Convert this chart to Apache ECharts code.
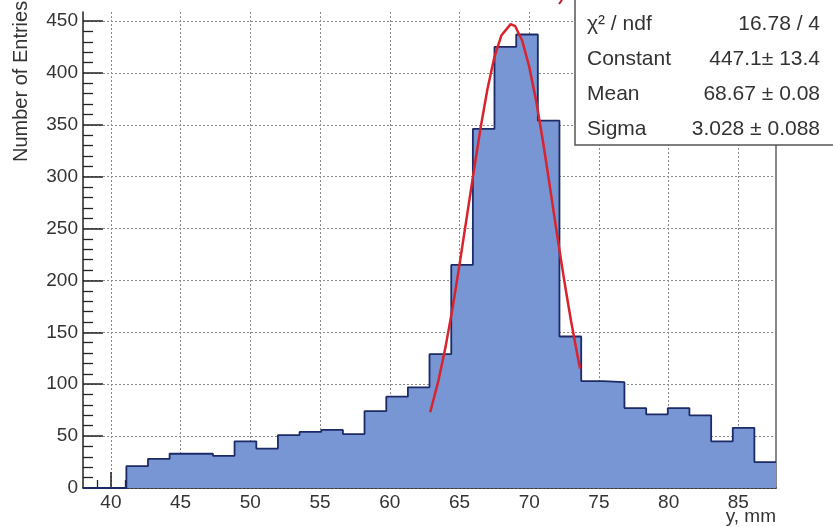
<!DOCTYPE html>
<html>
<head>
<meta charset="utf-8">
<script src="https://cdn.jsdelivr.net/npm/echarts@6/dist/echarts.min.js"></script>
<style>
html,body{margin:0;padding:0;background:#fff;}
#chart{width:833px;height:527px;}
</style>
</head>
<body>
<div id="chart"></div>
<script>
// Histogram bin edges (y, mm) and counts per bin
const binEdges = [38.00, 39.55, 41.11, 42.66, 44.21, 45.77, 47.32, 48.87, 50.43, 51.98, 53.53, 55.09, 56.64, 58.19, 59.75, 61.30, 62.85, 64.41, 65.96, 67.51, 69.07, 70.62, 72.17, 73.73, 75.28, 76.83, 78.39, 79.94, 81.49, 83.05, 84.60, 86.15, 87.70];
const counts = [0, 0, 21, 28, 33, 33, 31, 45, 38, 51, 54, 56, 52, 74, 88, 97, 129, 215, 346, 425, 437, 354, 146, 103, 102, 77, 71, 77, 70, 45, 58, 25];

// Gaussian fit curve
const fitX = [62.9, 63.5, 64.0, 64.5, 65.0, 65.5, 66.0, 66.5, 67.0, 67.5, 68.0, 68.67, 69.0, 69.5, 70.0, 70.5, 71.0, 71.5, 72.0, 72.5, 73.0, 73.5, 73.65];
const fitY = [73, 104, 136, 173, 215, 259, 303, 346, 384, 415, 436, 447, 445, 431, 406, 373, 333, 289, 244, 201, 161, 125, 115];

// Axis ticks
const xMajorTicks = [40, 45, 50, 55, 60, 65, 70, 75, 80, 85];
const xMinorTicks = [39, 41, 42, 43, 44, 46, 47, 48, 49, 51, 52, 53, 54, 56, 57, 58, 59, 61, 62, 63, 64, 66, 67, 68, 69, 71, 72, 73, 74, 76, 77, 78, 79, 81, 82, 83, 84, 86, 87];
const yMajorTicks = [0, 50, 100, 150, 200, 250, 300, 350, 400, 450];
const yMinorTicks = [10, 20, 30, 40, 60, 70, 80, 90, 110, 120, 130, 140, 160, 170, 180, 190, 210, 220, 230, 240, 260, 270, 280, 290, 310, 320, 330, 340, 360, 370, 380, 390, 410, 420, 430, 440];

// Stats box text
const statLabels = ['χ² / ndf', 'Constant', 'Mean', 'Sigma'];
const statValues = ['16.78 / 4', '447.1± 13.4', '68.67 ± 0.08', '3.028 ± 0.088'];

const xTitle = 'y, mm';
const yTitle = 'Number of Entries';

const FONT = '"Liberation Sans", Arial, Helvetica, sans-serif';
const TXT = '#333';

const stepData = counts.map((c, i) => [binEdges[i], c]);
stepData.push([binEdges[binEdges.length - 1], counts[counts.length - 1]]);
const fitData = fitX.map((x, i) => [x, fitY[i]]);

const chart = echarts.init(document.getElementById('chart'), null, {renderer: 'canvas'});

const statGraphics = [];
statGraphics.push({
  type: 'rect', shape: {x: 575, y: -5, width: 300, height: 150},
  style: {fill: '#fff', stroke: '#555', lineWidth: 1.5}, z: 100
});
statLabels.forEach((t, i) => {
  statGraphics.push({type: 'text', x: 587, y: 24 + i * 35, z: 101,
    style: {text: t, font: '21px ' + FONT, fill: TXT, align: 'left', verticalAlign: 'middle'}});
  statGraphics.push({type: 'text', x: 820, y: 24 + i * 35, z: 101,
    style: {text: statValues[i], font: '21px ' + FONT, fill: TXT, align: 'right', verticalAlign: 'middle'}});
});

const option = {
  animation: false,
  backgroundColor: '#fff',
  grid: {left: 83, right: 57, top: 12, bottom: 39, containLabel: false},
  xAxis: [
    {
      type: 'value', min: 38, max: 87.7, position: 'bottom',
      axisLine: {show: true, onZero: false, lineStyle: {color: '#222', width: 1.5}},
      axisTick: {show: true, inside: true, length: 16, customValues: xMajorTicks, lineStyle: {color: '#222', width: 1.5}},
      axisLabel: {show: true, customValues: xMajorTicks, margin: 5, fontSize: 19, fontFamily: FONT, color: TXT},
      splitLine: {show: true, lineStyle: {color: '#8a8a8a', type: [2, 2], width: 1}}
    },
    {
      type: 'value', min: 38, max: 87.7, position: 'bottom',
      axisLine: {show: false, onZero: false},
      axisTick: {show: true, inside: true, length: 8, customValues: xMinorTicks, lineStyle: {color: '#222', width: 1.3}},
      axisLabel: {show: false},
      splitLine: {show: false}
    }
  ],
  yAxis: [
    {
      type: 'value', min: 0, max: 458.7, position: 'left',
      axisLine: {show: true, onZero: false, lineStyle: {color: '#222', width: 1.5}},
      axisTick: {show: true, inside: true, length: 20, customValues: yMajorTicks, lineStyle: {color: '#222', width: 1.5}},
      axisLabel: {show: true, customValues: yMajorTicks, margin: 5, fontSize: 19, fontFamily: FONT, color: TXT},
      splitLine: {show: true, lineStyle: {color: '#8a8a8a', type: [2, 2], width: 1}}
    },
    {
      type: 'value', min: 0, max: 458.7, position: 'left',
      axisLine: {show: false, onZero: false},
      axisTick: {show: true, inside: true, length: 10, customValues: yMinorTicks, lineStyle: {color: '#222', width: 1.3}},
      axisLabel: {show: false},
      splitLine: {show: false}
    },
    {
      type: 'value', min: 0, max: 458.7, position: 'right',
      axisLine: {show: true, onZero: false, lineStyle: {color: '#888', width: 2}},
      axisTick: {show: false}, axisLabel: {show: false}, splitLine: {show: false}
    }
  ],
  series: [
    {
      type: 'line', xAxisIndex: 0, yAxisIndex: 0, step: 'end', symbol: 'none',
      data: stepData,
      lineStyle: {color: '#1c2a66', width: 1.8},
      areaStyle: {color: '#7896d3', opacity: 1},
      z: 3
    },
    {
      type: 'line', xAxisIndex: 0, yAxisIndex: 0, symbol: 'none', smooth: false,
      data: fitData,
      lineStyle: {color: '#d9232d', width: 2.5},
      z: 4
    }
  ],
  graphic: [
    {type: 'text', x: 21, y: 162, rotation: Math.PI / 2,
      style: {text: yTitle, font: '20px ' + FONT, fill: TXT, align: 'left', verticalAlign: 'middle'}},
    {type: 'text', x: 776, y: 517,
      style: {text: xTitle, font: '19px ' + FONT, fill: TXT, align: 'right', verticalAlign: 'middle'}},
    {type: 'line', shape: {x1: 562, y1: 0, x2: 559, y2: 4}, style: {stroke: '#c0182a', lineWidth: 2}},
    ...statGraphics
  ]
};
chart.setOption(option);
</script>
</body>
</html>
